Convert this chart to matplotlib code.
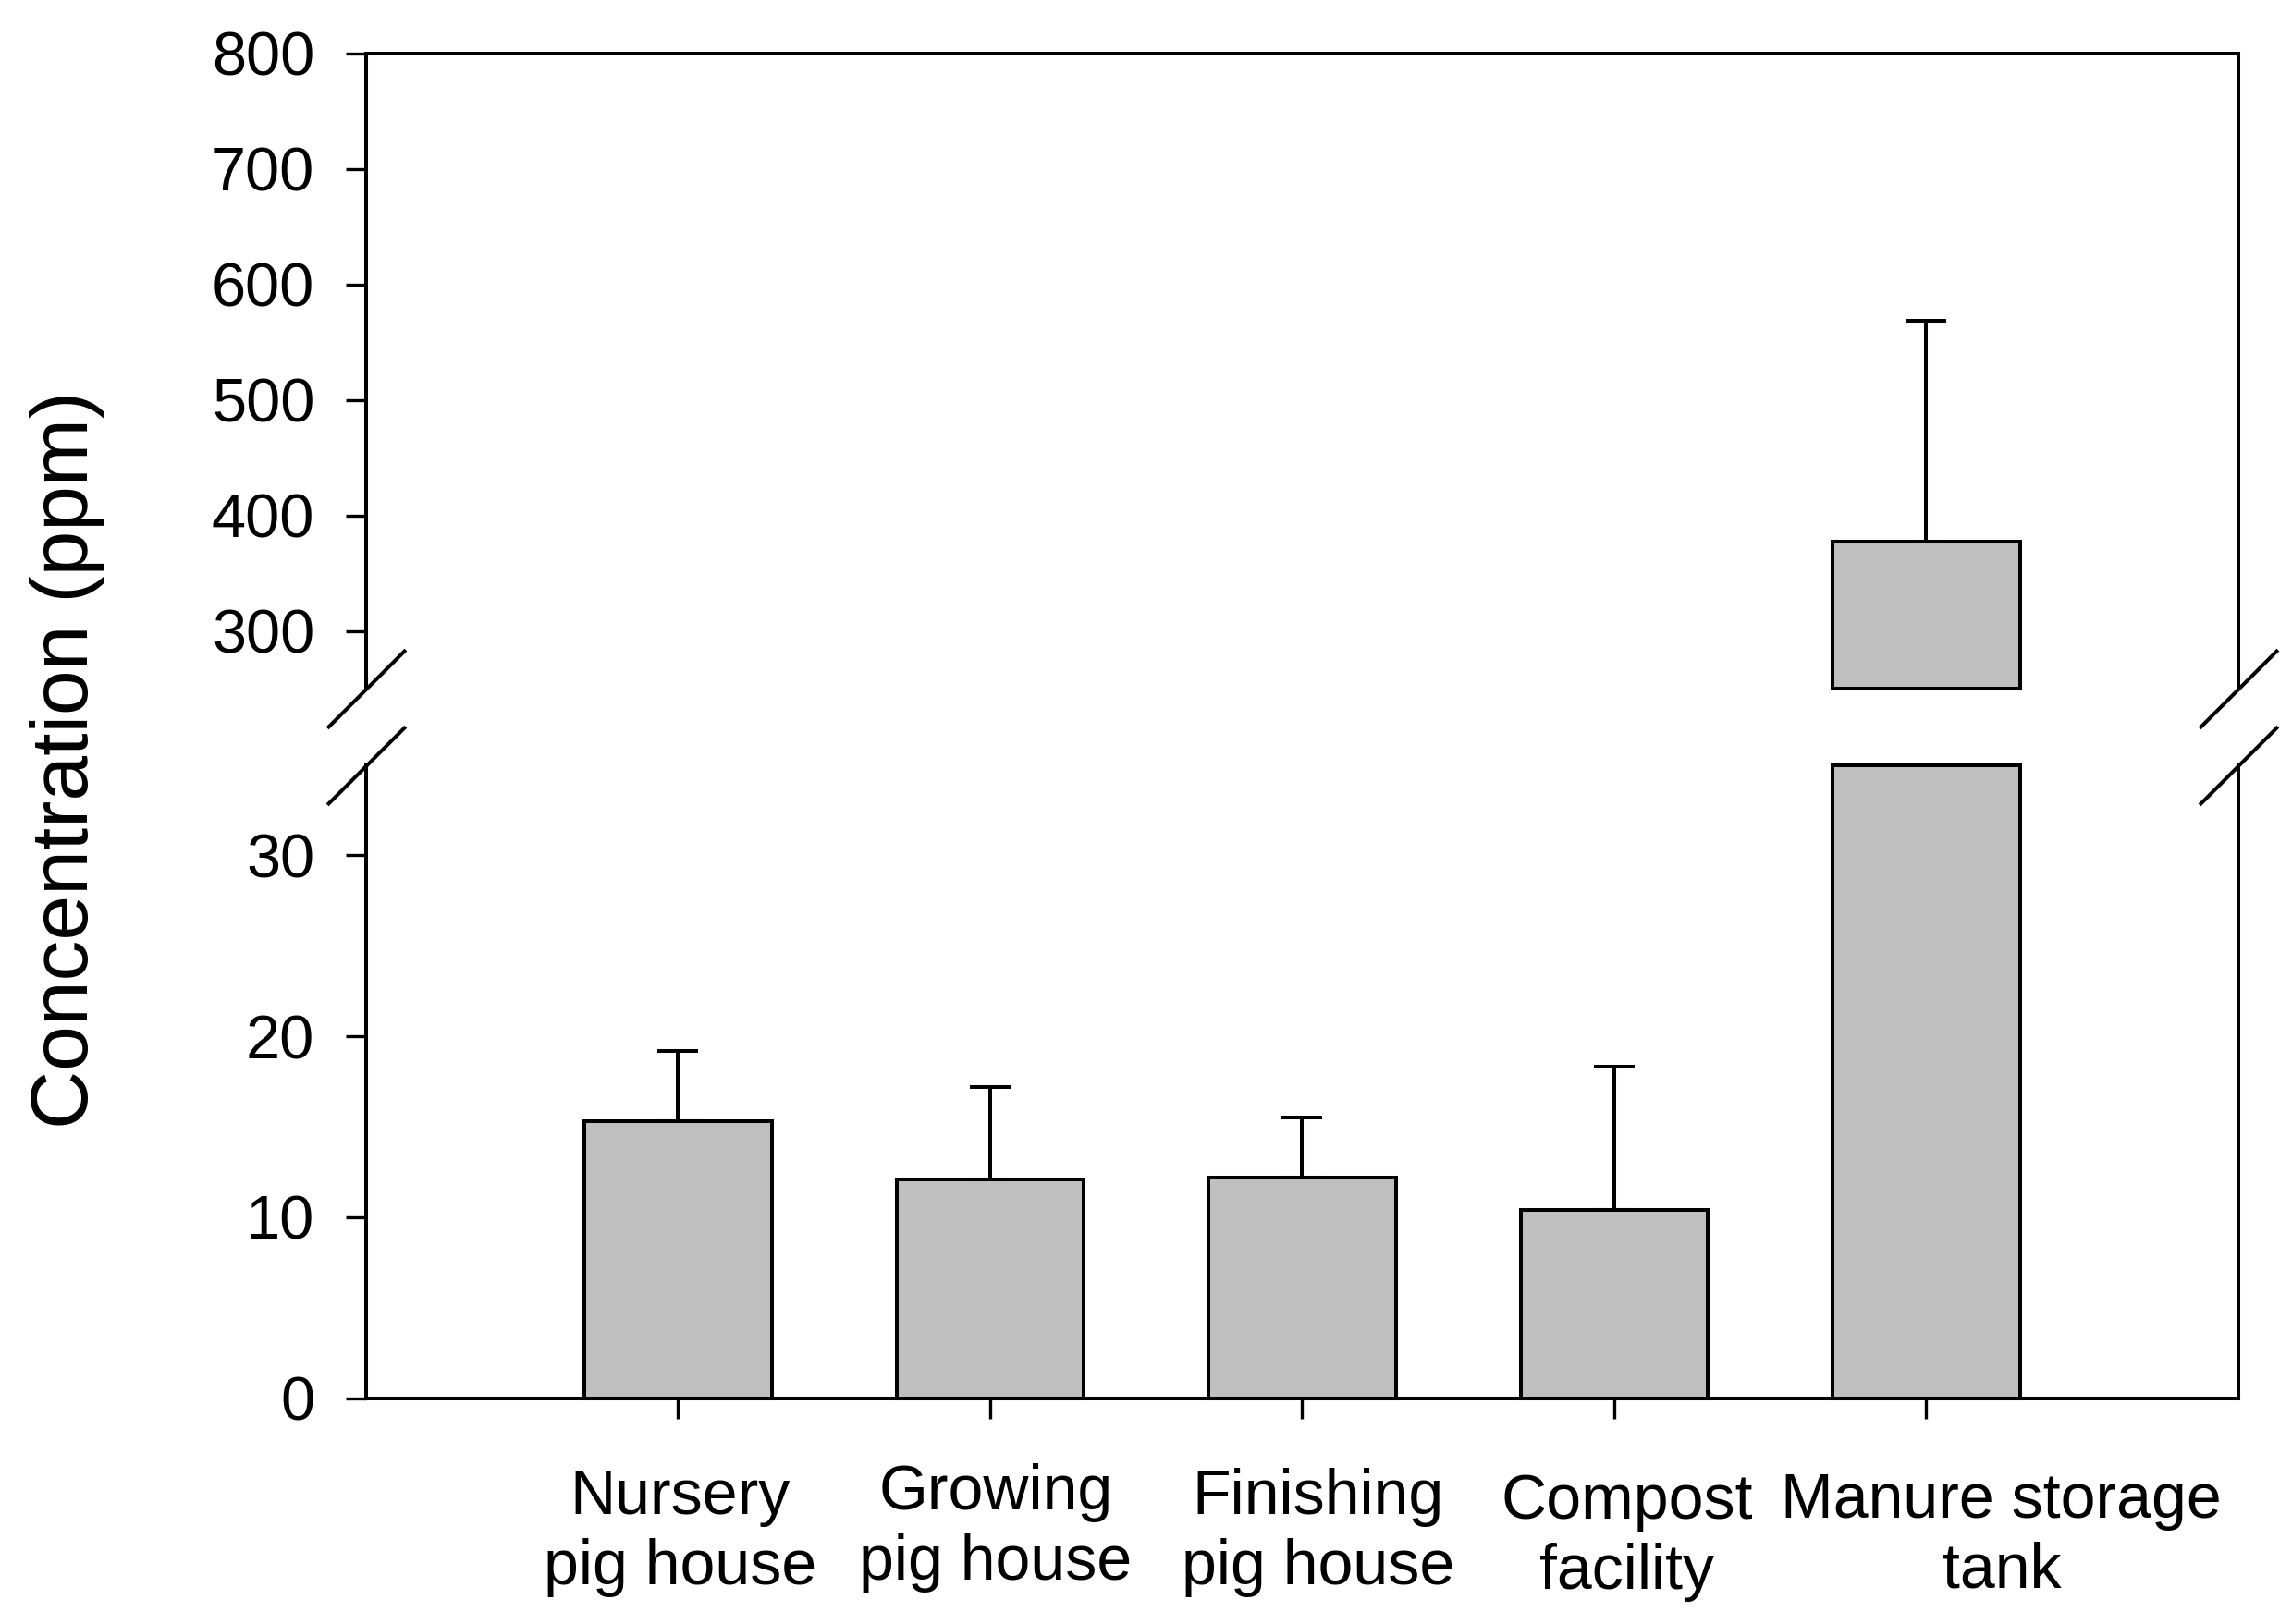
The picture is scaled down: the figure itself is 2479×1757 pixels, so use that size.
import numpy as np
import matplotlib
matplotlib.use('Agg')
import matplotlib.pyplot as plt

plt.rcParams['font.family'] = ['Liberation Sans', 'DejaVu Sans']

categories = ['Nursery\npig house', 'Growing\npig house', 'Finishing\npig house',
              'Compost\nfacility', 'Manure storage\ntank']
means = np.array([15.3, 12.1, 12.2, 10.4, 377.0])
sd = np.array([3.9, 5.1, 3.3, 7.9, 192.0])

lower_lim = (0, 35)
upper_lim = (250, 800)
lower_ticks = [0, 10, 20, 30]
upper_ticks = [300, 400, 500, 600, 700, 800]

# where the category labels sit (x in data units, y in axes fraction)
label_x = [1.007, 2.018, 3.052, 4.041, 5.241]
label_y = [-0.1095, -0.1022, -0.1095, -0.1168, -0.1153]

lw = 2.9
bar_kw = dict(width=0.6, color='#c0c0c0', edgecolor='black', linewidth=lw, zorder=3)
err_kw = dict(fmt='none', ecolor='black', elinewidth=lw, capsize=16, capthick=lw, zorder=2)

fig = plt.figure(figsize=(24.79, 17.57), dpi=100)
ax_top = fig.add_axes([0.1597, 0.576, 0.8169, 0.391])
ax_bot = fig.add_axes([0.1597, 0.139, 0.8169, 0.390])

x = np.arange(1, len(categories) + 1)

# lower panel: bars cut at the top of the range
low_h = np.minimum(means, lower_lim[1])
ax_bot.bar(x, low_h, clip_on=False, **bar_kw)
small = means < lower_lim[1]
ax_bot.errorbar(x[small], means[small], yerr=[np.zeros(small.sum()), sd[small]], **err_kw)

# upper panel: only the bars that reach it
big = means > upper_lim[0]
ax_top.bar(x[big], means[big] - upper_lim[0], bottom=upper_lim[0], clip_on=False, **bar_kw)
ax_top.errorbar(x[big], means[big], yerr=[np.zeros(big.sum()), sd[big]], **err_kw)

for ax in (ax_top, ax_bot):
    ax.set_xlim(0, 6)
    for s in ax.spines.values():
        s.set_linewidth(lw)
    ax.tick_params(axis='y', direction='out', length=16, width=2.4, pad=24, labelsize=48)
    ax.tick_params(axis='x', direction='out', length=16, width=2.4)

ax_bot.set_ylim(*lower_lim)
ax_bot.set_yticks(lower_ticks)
ax_bot.spines['top'].set_visible(False)
ax_bot.set_xticks(x)
ax_bot.set_xticklabels([])
for lx, ly, lab in zip(label_x, label_y, categories):
    ax_bot.text(lx, ly, lab, transform=ax_bot.get_xaxis_transform(), ha='center', va='top',
                fontsize=49, linespacing=1.24, multialignment='center')

ax_top.set_ylim(*upper_lim)
ax_top.set_yticks(upper_ticks)
ax_top.spines['bottom'].set_visible(False)
ax_top.set_xticks([])

# break marks on both sides
mk = dict(marker=[(-1, -1), (1, 1)], markersize=61, linestyle='none',
          color='black', mec='black', mew=lw, clip_on=False)
ax_top.plot([0, 1], [0, 0], transform=ax_top.transAxes, **mk)
ax_bot.plot([0, 1], [1, 1], transform=ax_bot.transAxes, **mk)

fig.text(0.013, 0.532, 'Concentration (ppm)', rotation=90, ha='left', va='center', fontsize=63)

fig.savefig('out.png', dpi=100)
